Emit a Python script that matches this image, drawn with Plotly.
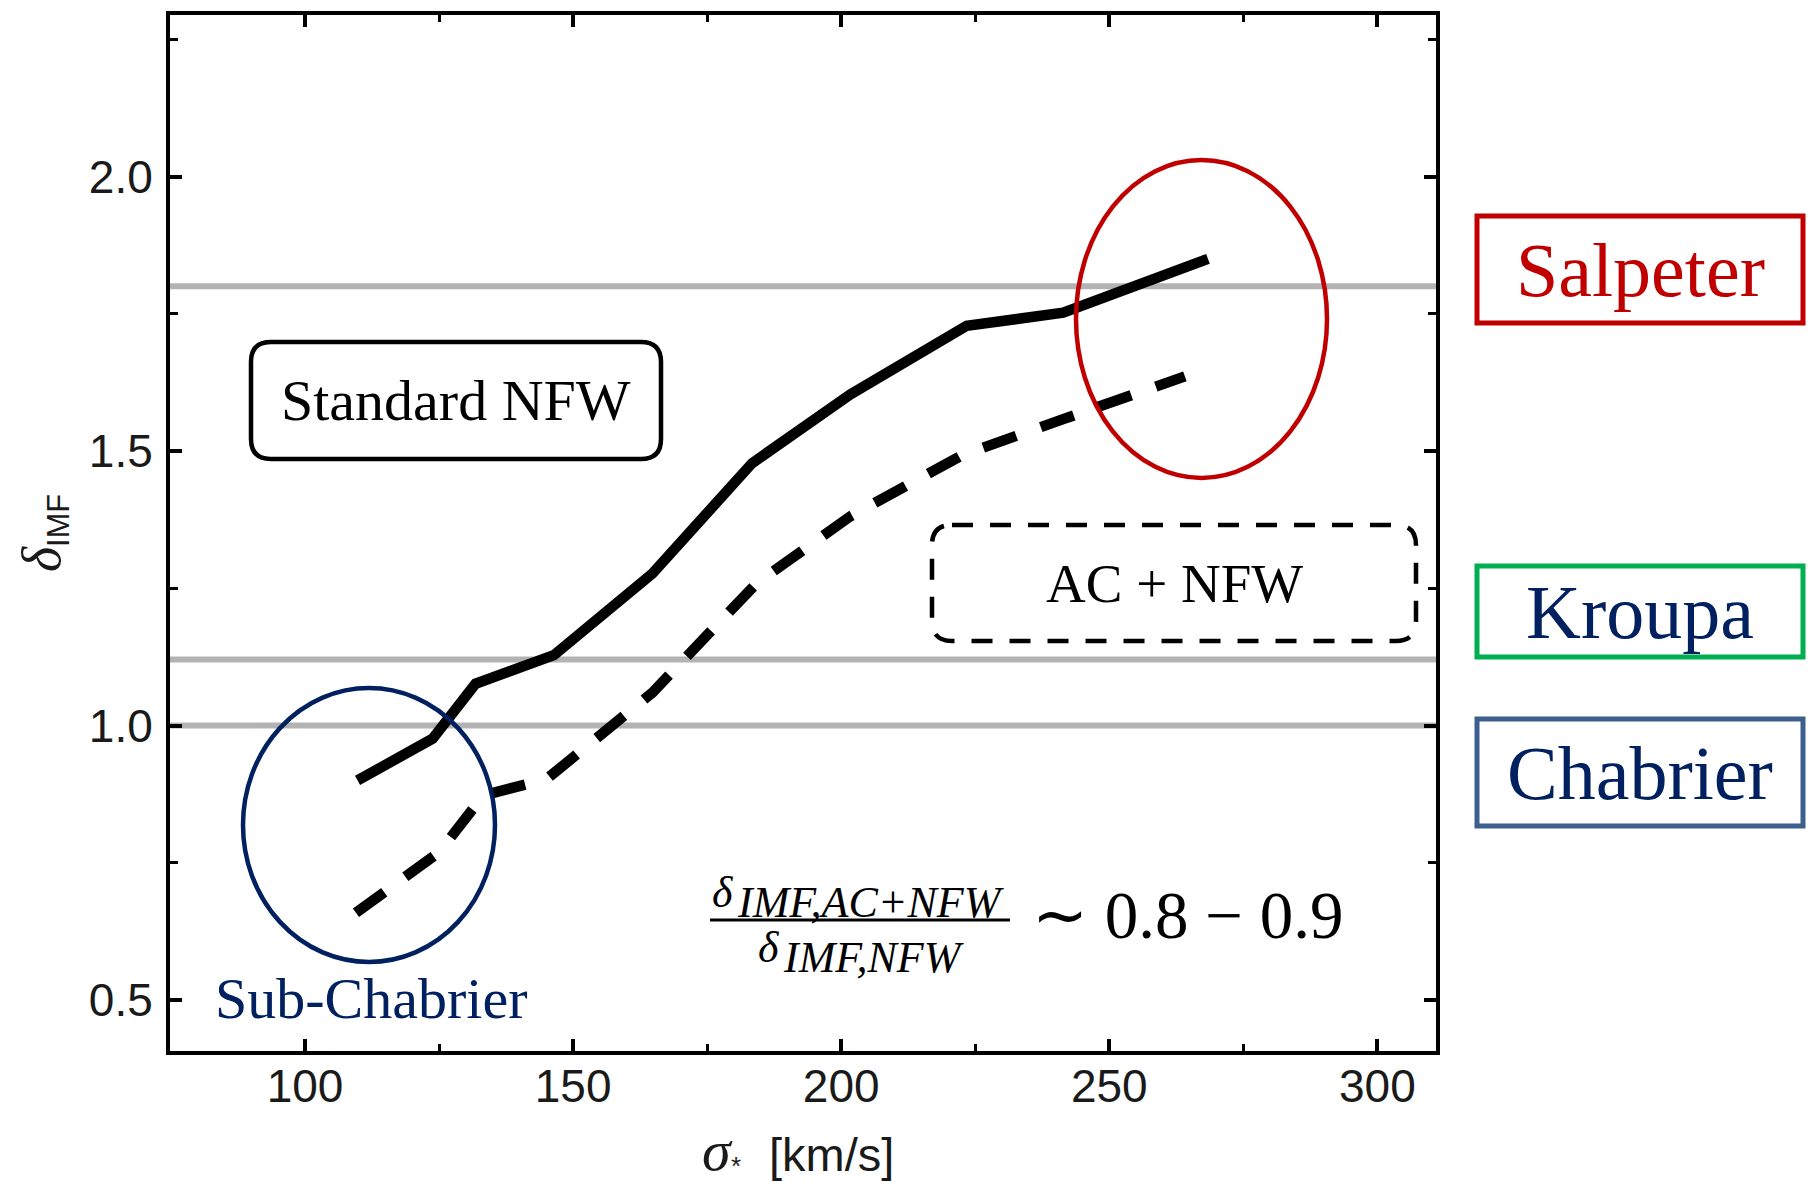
import plotly.graph_objects as go

# ---------------- data ----------------
sigma_nfw = [109.8, 123.8, 131.8, 146.4, 164.8, 183.4, 201.7, 223.4, 241.4, 268.4]
delta_nfw = [0.900, 0.976, 1.076, 1.128, 1.277, 1.478, 1.603, 1.728, 1.752, 1.850]

sigma_ac = [109.5, 125.0, 133.3, 145.0, 164.8, 184.2, 201.7, 222.7, 241.4, 264.1]
delta_ac = [0.659, 0.769, 0.873, 0.902, 1.060, 1.259, 1.381, 1.493, 1.558, 1.636]

imf_names = ["Salpeter", "Kroupa", "Chabrier"]
imf_levels = [1.80, 1.12, 1.00]

x_ticks = [100, 150, 200, 250, 300]
y_ticks = [0.5, 1.0, 1.5, 2.0]
x_tick_labels = ["100", "150", "200", "250", "300"]
y_tick_labels = ["0.5", "1.0", "1.5", "2.0"]

# ---------------- layout geometry (pixels) ----------------
FW, FH = 1808, 1182
L, T, W, H = 170, 15, 1266, 1036


def px(x):
    return (x - L) / W


def py(y):
    return (T + H - y) / H


SERIF = "Liberation Serif"
SANS = "Liberation Sans"
NAVY = "#002060"
RED = "#C00000"
GREEN = "#00B050"
STEEL = "#3D5F8F"

fig = go.Figure()

fig.add_trace(go.Scatter(x=sigma_nfw, y=delta_nfw, mode="lines",
                         line=dict(color="black", width=10.5), showlegend=False,
                         hoverinfo="skip"))
fig.add_trace(go.Scatter(x=sigma_ac, y=delta_ac, mode="lines",
                         line=dict(color="black", width=10.5, dash="35px,26px"),
                         showlegend=False, hoverinfo="skip"))

shapes = []
# horizontal IMF reference lines
for lvl in imf_levels:
    shapes.append(dict(type="line", xref="paper", yref="y", x0=0, x1=1, y0=lvl, y1=lvl,
                       line=dict(color="#b3b3b3", width=6), layer="below"))


def rounded(x0, y0, x1, y1, r):
    a0, a1 = px(x0), px(x1)
    b0, b1 = py(y0), py(y1)  # b0 top (larger), b1 bottom
    rx, ry = r / W, r / H
    return (f"M {a0+rx},{b0} L {a1-rx},{b0} Q {a1},{b0} {a1},{b0-ry} "
            f"L {a1},{b1+ry} Q {a1},{b1} {a1-rx},{b1} L {a0+rx},{b1} "
            f"Q {a0},{b1} {a0},{b1+ry} L {a0},{b0-ry} Q {a0},{b0} {a0+rx},{b0} Z")


shapes.append(dict(type="path", xref="paper", yref="paper", path=rounded(251, 342, 661, 459, 20),
                   line=dict(color="black", width=4.5)))
shapes.append(dict(type="path", xref="paper", yref="paper", path=rounded(932, 525, 1416, 641, 20),
                   line=dict(color="black", width=4.5, dash="21px,17px")))

# ellipses
shapes.append(dict(type="circle", xref="paper", yref="paper",
                   x0=px(1076), x1=px(1327), y0=py(160), y1=py(478),
                   line=dict(color=RED, width=4.5)))
shapes.append(dict(type="circle", xref="paper", yref="paper",
                   x0=px(243), x1=px(495), y0=py(688), y1=py(962),
                   line=dict(color=NAVY, width=4.5)))

# right-side IMF boxes
box_y = {"Salpeter": (216, 323), "Kroupa": (566, 657), "Chabrier": (719, 826)}
box_col = {"Salpeter": RED, "Kroupa": GREEN, "Chabrier": STEEL}
txt_col = {"Salpeter": RED, "Kroupa": NAVY, "Chabrier": NAVY}
for name in imf_names:
    y0, y1 = box_y[name]
    shapes.append(dict(type="rect", xref="paper", yref="paper",
                       x0=px(1477), x1=px(1803), y0=py(y0), y1=py(y1),
                       line=dict(color=box_col[name], width=5)))

# fraction bar
shapes.append(dict(type="line", xref="paper", yref="paper",
                   x0=px(710), x1=px(1010), y0=py(920), y1=py(920),
                   line=dict(color="black", width=3)))

ann = []


def text(x, y, s, size, color="black", family=SERIF, xanchor="center", angle=0):
    ann.append(dict(x=px(x), y=py(y), xref="paper", yref="paper", text=s, showarrow=False,
                    xanchor=xanchor, yanchor="middle", textangle=angle,
                    font=dict(family=family, size=size, color=color)))


text(456, 400, "Standard NFW", 58)
text(1174, 583, "AC + NFW", 55)
for name in imf_names:
    y0, y1 = box_y[name]
    text(1640, (y0 + y1) / 2, name, 76, txt_col[name])
text(371, 998, "Sub-Chabrier", 58, NAVY)

# formula
text(710, 892, "<i>δ</i>", 44, xanchor="left")
text(735, 902, "<i>IMF,AC+NFW</i>", 44, xanchor="left")
text(756, 947, "<i>δ</i>", 44, xanchor="left")
text(781, 957, "<i>IMF,NFW</i>", 44, xanchor="left")
text(1030, 915, "∼ 0.8 − 0.9", 67, xanchor="left")

# axis titles
text(700, 1150, "<i>σ</i>", 58, color="#1a1a1a", xanchor="left")
text(729, 1166, "*", 26, color="#1a1a1a", family=SANS, xanchor="left")
text(767, 1154, "[km/s]", 47, color="#1a1a1a", family=SANS, xanchor="left")
text(44, 533, f"<span style='font-family:{SERIF};font-size:54px'><i>δ</i></span><sub>IMF</sub>",
     44, color="#1a1a1a", family=SANS, angle=-90)

axis_common = dict(showline=True, linewidth=4, linecolor="black", mirror="ticks",
                   ticks="inside", ticklen=12, tickwidth=4, tickcolor="black",
                   showgrid=False, zeroline=False,
                   tickfont=dict(family=SANS, size=46, color="#1a1a1a"))

fig.update_layout(
    width=FW, height=FH,
    margin=dict(l=L, r=FW - L - W, t=T, b=FH - T - H, autoexpand=False),
    paper_bgcolor="white", plot_bgcolor="white",
    xaxis=dict(range=[74.82, 310.93], tickvals=x_ticks, ticktext=x_tick_labels,
               minor=dict(ticks="inside", ticklen=7, tickwidth=3, tickcolor="black", dtick=25, tick0=0),
               ticklabelstandoff=-8, **axis_common),
    yaxis=dict(range=[0.4071, 2.2942], tickvals=y_ticks, ticktext=y_tick_labels,
               minor=dict(ticks="inside", ticklen=8, tickwidth=3, tickcolor="black", dtick=0.25, tick0=0),
               ticklabelstandoff=4, **axis_common),
    shapes=shapes, annotations=ann,
)

fig.write_html("out.html")
